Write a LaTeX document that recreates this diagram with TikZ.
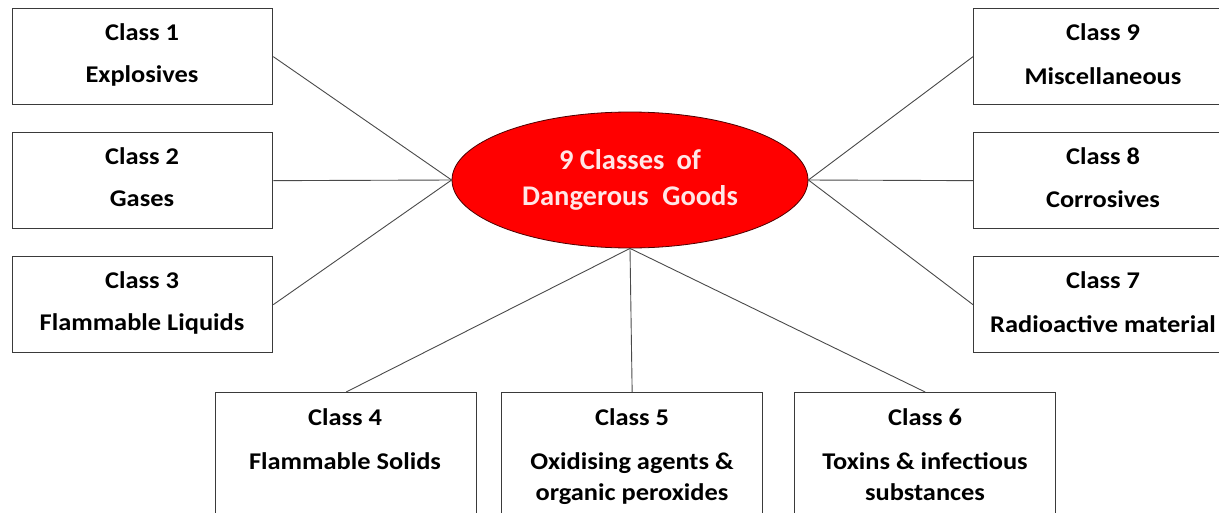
\documentclass[tikz,border=0pt]{standalone}
\usepackage{fontspec}
\setmainfont{Carlito}
\newfontfamily\boxfont[FakeStretch=1.1]{Carlito}
\usetikzlibrary{shapes.geometric}
\definecolor{boxline}{HTML}{3A3A3A}
\definecolor{conline}{HTML}{4A4A4A}
\definecolor{hubred}{HTML}{FF0000}
\definecolor{hubtext}{HTML}{FFE6E6}
\begin{document}
\begin{tikzpicture}[x=1pt,y=-1pt,
  classbox/.style={draw=boxline,line width=1.3pt,fill=white,rectangle,inner sep=0pt,
    minimum width=260pt,minimum height=96pt,anchor=north west},
  lowbox/.style={draw=boxline,line width=1.3pt,fill=white,rectangle,inner sep=0pt,
    minimum width=261pt,minimum height=160pt,anchor=north west},
  lbl/.style={font=\boxfont\bfseries\fontsize{24}{31}\selectfont,text=black,align=center,inner sep=0pt,anchor=center},
  hub/.style={ellipse,draw=black!70!red,line width=0.8pt,fill=hubred,minimum width=356pt,minimum height=136pt,inner sep=0pt},
  conn/.style={draw=conline,line width=0.9pt}]
\clip (0,0) rectangle (1219,512);
\fill[white] (0,0) rectangle (1219,512);

% hub
\node[hub] (hub) at (630,180) {};
\node[font=\bfseries\fontsize{28.5}{36}\selectfont,text=hubtext,align=center,inner sep=0pt] (hubt) at (630,180) {9 Classes\hspace{0.2em} of\\Dangerous\hspace{0.25em} Goods};

% left boxes
\node[classbox] (b1) at (12,8) {};
\node[classbox] (b2) at (12,132) {};
\node[classbox] (b3) at (12,256) {};
% right boxes
\node[classbox] (b9) at (973,8) {};
\node[classbox] (b8) at (973,132) {};
\node[classbox] (b7) at (973,256) {};
% bottom boxes
\node[lowbox] (b4) at (215,392) {};
\node[lowbox] (b5) at (501,392) {};
\node[lowbox] (b6) at (794,392) {};

% connectors
\draw[conn] (b1.east) -- (hub.west);
\draw[conn] (b2.east) -- (hub.west);
\draw[conn] (b3.east) -- (hub.west);
\draw[conn] (b9.west) -- (hub.east);
\draw[conn] (b8.west) -- (hub.east);
\draw[conn] (b7.west) -- (hub.east);
\draw[conn] (hub.south) -- (b4.north);
\draw[conn] (hub.south) -- (b5.north);
\draw[conn] (hub.south) -- (b6.north);

% labels
\node[lbl] (t1a) at (142,32) {Class 1};
\node[lbl] (t1b) at (142,76) {Explosives};
\node[lbl] (t2a) at (142,156) {Class 2};
\node[lbl] (t2b) at (142,199) {Gases};
\node[lbl] (t3a) at (142,280) {Class 3};
\node[lbl] (t3b) at (142,324) {Flammable Liquids};
\node[lbl] (t9a) at (1103,32) {Class 9};
\node[lbl] (t9b) at (1103,76) {Miscellaneous};
\node[lbl] (t8a) at (1103,156) {Class 8};
\node[lbl] (t8b) at (1103,199) {Corrosives};
\node[lbl] (t7a) at (1103,280) {Class 7};
\node[lbl] (t7b) at (1103,324) {Radioactive material};
\node[lbl] (t4a) at (345,417) {Class 4};
\node[lbl] (t4b) at (345,461) {Flammable Solids};
\node[lbl] (t5a) at (632,417) {Class 5};
\node[lbl,anchor=north] (t5b) at (632,452) {Oxidising agents \&\\organic peroxides};
\node[lbl] (t6a) at (925,417) {Class 6};
\node[lbl,anchor=north] (t6b) at (925,452) {Toxins \& infectious\\substances};
\end{tikzpicture}
\end{document}
